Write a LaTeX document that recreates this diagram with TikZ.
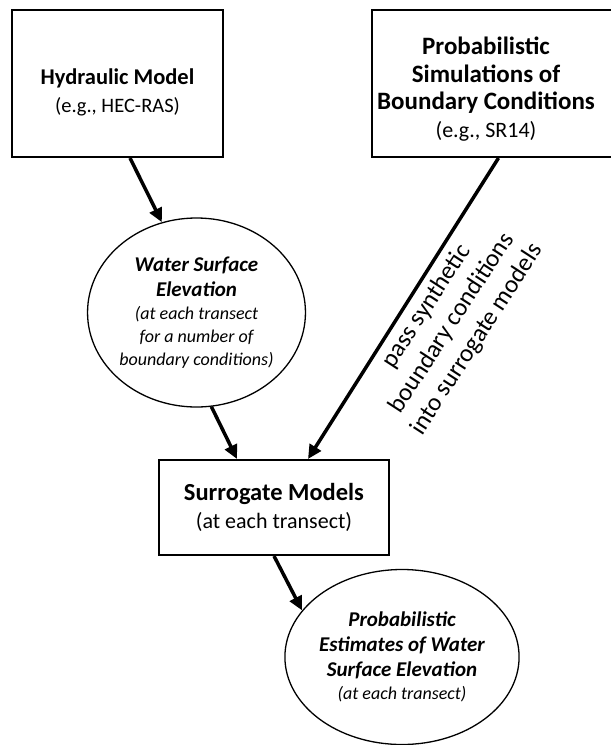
\documentclass[tikz,border=0pt]{standalone}
\usepackage{fontspec}
\setmainfont{Carlito}
\usetikzlibrary{shapes.geometric, arrows.meta}

\begin{document}
\begin{tikzpicture}[x=1pt, y=-1pt,
    frame/.style={rectangle, draw, line width=2pt, inner sep=0pt},
    boxtext/.style={align=center, font=\fontsize{22}{27.5}\selectfont},
    bubble/.style={ellipse, draw, line width=1.3pt, inner sep=0pt, align=center, font=\fontsize{18}{23}\selectfont\itshape},
    flow/.style={line width=3.5pt, -{Triangle[length=14pt, width=13pt]}}
]
    \useasboundingbox (0,0) rectangle (611,745);

    % top row
    \node[frame, minimum width=211pt, minimum height=147pt] (hyd) at (117.5,83.5) {};
    \node[boxtext, font=\fontsize{20.5}{28}\selectfont] (hydtext) at (117.5,92) {
        {\fontsize{22.5}{28}\selectfont\bfseries Hydraulic Model}\\
        (e.g., HEC-RAS)
    };

    \node[frame, minimum width=243pt, minimum height=147pt] (sims) at (493.5,83.5) {};
    \node[boxtext] (simstext) at (486,89) {
        {\fontsize{25}{28}\selectfont\bfseries Probabilistic}\\
        {\fontsize{25}{28}\selectfont\bfseries Simulations of}\\
        {\fontsize{25}{28}\selectfont\bfseries Boundary Conditions}\\
        (e.g., SR14)
    };

    % middle
    \node[bubble, minimum width=203pt, minimum height=189pt] (wse) at (196.5,312.5) {
        {\fontsize{21}{25}\selectfont\bfseries Water Surface}\\[2pt]
        {\fontsize{21}{25}\selectfont\bfseries Elevation}\\
        (at each transect\\
        for a number of\\
        boundary conditions)
    };

    \node[frame, boxtext, minimum width=230pt, minimum height=95pt] (sur) at (274,507.5) {
        {\fontsize{24.5}{28}\selectfont\bfseries Surrogate Models}\\
        (at each transect)
    };

    % bottom
    \node[bubble, minimum width=192pt, minimum height=175pt] (pe) at (402,657) {
        {\fontsize{21}{25}\selectfont\bfseries Probabilistic}\\[2pt]
        {\fontsize{21}{25}\selectfont\bfseries Estimates of Water}\\[2pt]
        {\fontsize{21}{25}\selectfont\bfseries Surface Elevation}\\
        (at each transect)
    };

    \node[rotate=57, align=center, font=\fontsize{25}{30}\selectfont] (passlabel) at (452,323) {
        pass synthetic\\
        boundary conditions\\
        into surrogate models
    };

    % connectors
    \draw[flow] ([xshift=12.5pt]hyd.south) -- (wse.111);
    \draw[flow] (wse.-81) -- ([xshift=-37pt]sur.north);
    \draw[flow] ([xshift=5pt]sims.south) -- ([xshift=34pt]sur.north);
    \draw[flow] (sur.south) -- (pe.155);
\end{tikzpicture}
\end{document}
